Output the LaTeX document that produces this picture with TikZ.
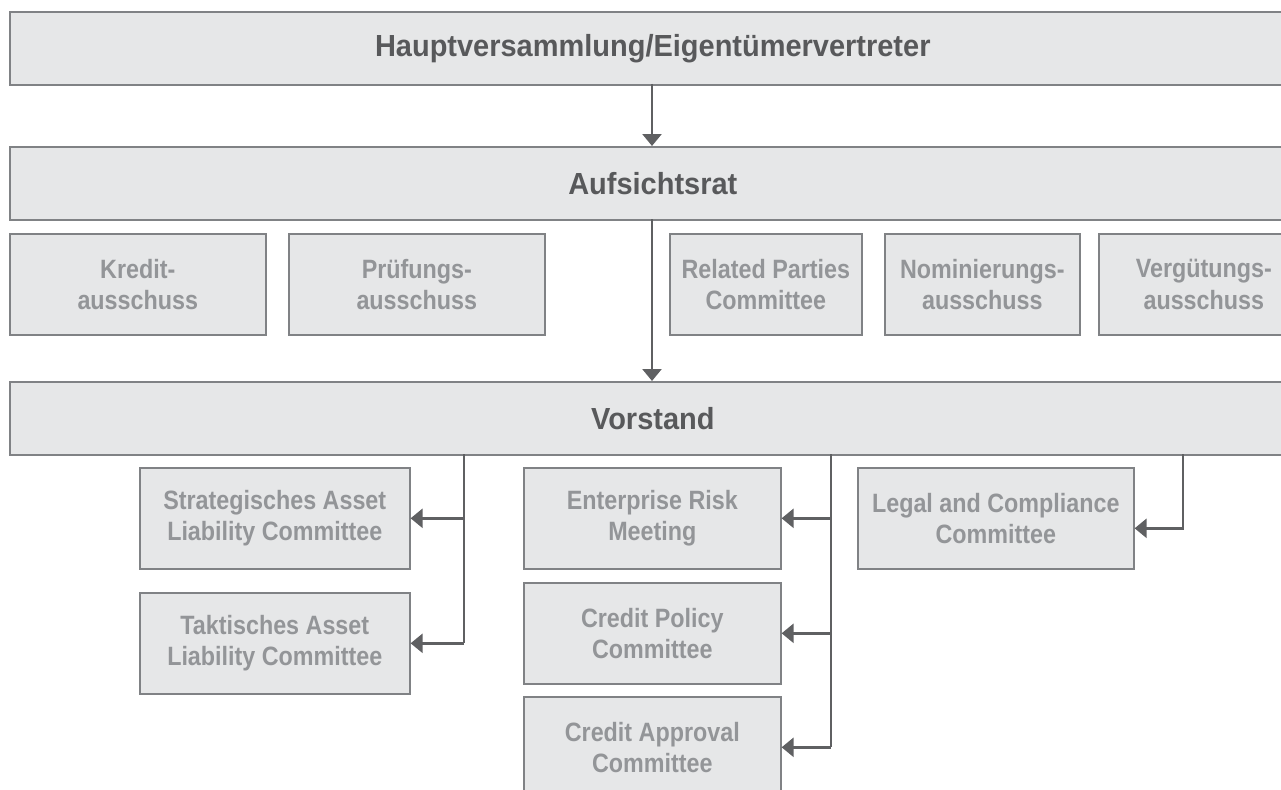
\documentclass[tikz,border=0pt]{standalone}
\usepackage{fontspec}
\setmainfont[FakeStretch=0.88]{Liberation Sans}
\newfontfamily\topfont[FakeStretch=0.95]{Liberation Sans}
\usetikzlibrary{arrows.meta}
\definecolor{boxfill}{HTML}{E6E7E8}
\definecolor{boxline}{HTML}{808285}
\definecolor{darktext}{HTML}{58595B}
\definecolor{lighttext}{HTML}{939598}
\definecolor{conn}{HTML}{5F6062}
\tikzset{
  bigbox/.style={draw=boxline, line width=1.6pt, fill=boxfill, anchor=north west, inner sep=0pt,
    minimum width=1286pt, minimum height=73pt, text=darktext,
    font=\topfont\bfseries\fontsize{30.5}{34}\selectfont},
  combox/.style={draw=boxline, line width=1.6pt, fill=boxfill, anchor=north west, inner sep=0pt,
    minimum height=101pt, text=lighttext, align=center,
    font=\bfseries\fontsize{26.5}{31.5}\selectfont},
  arr/.style={draw=conn, line width=2.6pt, -{Triangle[length=12pt,width=19pt]}},
  ln/.style={draw=conn, line width=2.6pt}
}
\begin{document}
\begin{tikzpicture}[x=1pt,y=-1pt]
\useasboundingbox (0,0) rectangle (1281,789);
\clip (0,0) rectangle (1281,789);
% top level
\node[bigbox] (hv) at (9,11) {Hauptversammlung/Eigentümervertreter};
\node[bigbox] (ar) at (9,146) {Aufsichtsrat};
\node[bigbox] (vs) at (9,381) {Vorstand};
% supervisory committees
\node[combox, minimum width=256pt] (kr) at (9,233) {Kredit-\\ausschuss};
\node[combox, minimum width=256pt] (pr) at (288,233) {Prüfungs-\\ausschuss};
\node[combox, minimum width=192pt] (rp) at (669,233) {Related Parties\\Committee};
\node[combox, minimum width=195pt] (no) at (884,233) {Nominierungs-\\ausschuss};
\node[combox, minimum width=210pt] (ve) at (1098,233) {Vergütungs-\\ausschuss};
% management committees
\node[combox, minimum width=270pt] (sa) at (139,467) {Strategisches Asset\\Liability Committee};
\node[combox, minimum width=270pt] (ta) at (139,592) {Taktisches Asset\\Liability Committee};
\node[combox, minimum width=257pt] (er) at (523,467) {Enterprise Risk\\Meeting};
\node[combox, minimum width=257pt] (cp) at (523,582) {Credit Policy\\Committee};
\node[combox, minimum width=257pt] (ca) at (523,696) {Credit Approval\\Committee};
\node[combox, minimum width=276pt] (lc) at (857,467) {Legal and Compliance\\Committee};
% connectors
\coordinate (hvs) at (652,84);
\coordinate (ars) at (652,219);
\draw[arr] (hvs) -- (hvs |- ar.north);
\draw[arr] (ars) -- (ars |- vs.north);
\coordinate (b1) at (464,454);
\coordinate (b2) at (831,454);
\coordinate (b3) at (1183,454);
\draw[ln] (b1) -- (b1 |- ta.east);
\draw[arr] (b1 |- sa.east) -- (sa.east);
\draw[arr] (b1 |- ta.east) -- (ta.east);
\draw[ln] (b2) -- (b2 |- ca.east);
\draw[arr] (b2 |- er.east) -- (er.east);
\draw[arr] (b2 |- cp.east) -- (cp.east);
\draw[arr] (b2 |- ca.east) -- (ca.east);
\draw[arr] (b3) |- ([yshift=-10pt]lc.east);
\end{tikzpicture}
\end{document}
